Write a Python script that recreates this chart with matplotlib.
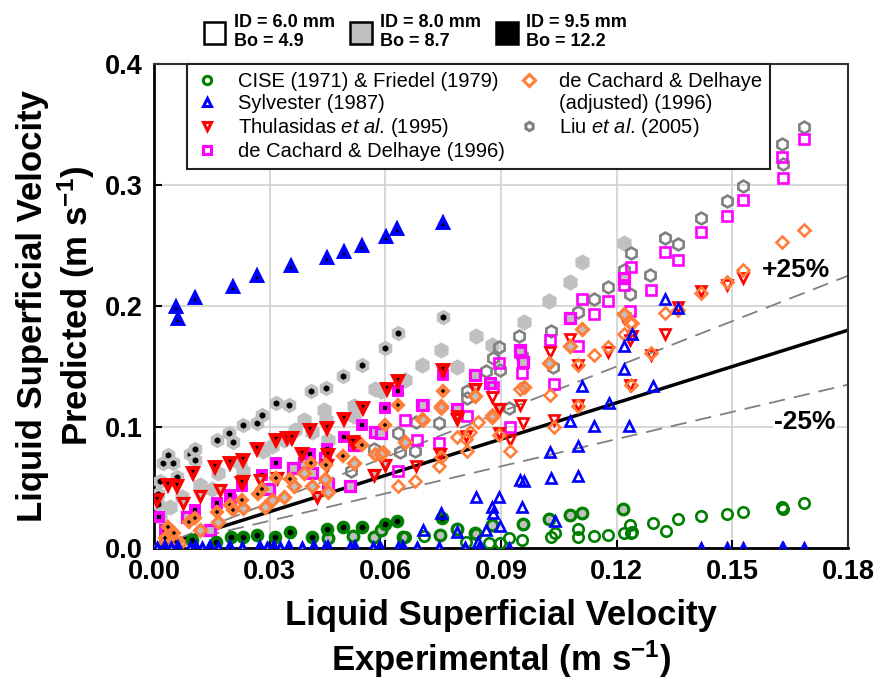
import matplotlib
matplotlib.use('Agg')
import matplotlib.pyplot as plt
from matplotlib.lines import Line2D
from matplotlib.patches import Patch

plt.rcParams['font.family'] = ['Liberation Sans', 'DejaVu Sans']
plt.rcParams['mathtext.fontset'] = 'custom'
plt.rcParams['mathtext.rm'] = 'Liberation Sans'
plt.rcParams['mathtext.it'] = 'Liberation Sans:italic'
plt.rcParams['mathtext.bf'] = 'Liberation Sans:bold'

# ---------------- data (x = experimental, y = predicted), m/s ----------------
# CISE (1971) & Friedel (1979)
cise_6_x = [0.065, 0.070, 0.081, 0.0836, 0.087, 0.0898, 0.0922, 0.0954, 0.103, 0.104, 0.110, 0.110, 0.114, 0.1177,
            0.122, 0.1235, 0.1237, 0.124, 0.1293, 0.1328, 0.1358, 0.142, 0.1485, 0.1528, 0.163, 0.1632, 0.1685]
cise_6_y = [0.009, 0.010, 0.005, 0.0116, 0.004, 0.004, 0.008, 0.0066, 0.0095, 0.012, 0.016, 0.0095, 0.010, 0.011,
            0.012, 0.019, 0.012, 0.013, 0.021, 0.014, 0.024, 0.0265, 0.028, 0.0295, 0.034, 0.032, 0.037]
cise_8_x = [0.045, 0.0517, 0.057, 0.059, 0.0647, 0.0742, 0.0786, 0.0833, 0.0876, 0.0958, 0.1025, 0.108, 0.111, 0.1216]
cise_8_y = [0.008, 0.010, 0.0095, 0.015, 0.0095, 0.011, 0.016, 0.012, 0.019, 0.020, 0.024, 0.027, 0.029, 0.032]
cise_95_x = [0.0098, 0.016, 0.020, 0.023, 0.0267, 0.0314, 0.0353, 0.041, 0.0448, 0.049, 0.054, 0.060, 0.063, 0.0746]
cise_95_y = [0.0066, 0.005, 0.009, 0.009, 0.011, 0.009, 0.0135, 0.0095, 0.0155, 0.017, 0.0176, 0.020, 0.0226, 0.025]

# Sylvester (1987)
syl_6_x = [0.0697, 0.0744, 0.0787, 0.084, 0.086, 0.0836, 0.0876, 0.088, 0.0894, 0.0898, 0.0954, 0.095, 0.096, 0.1026,
           0.103, 0.104, 0.108, 0.110, 0.110, 0.111, 0.114, 0.118, 0.1218, 0.122, 0.1233, 0.124, 0.1293, 0.1326,
           0.1358, 0.092, 0.142, 0.1485, 0.1527, 0.163, 0.1632, 0.1685]
syl_6_y = [0.015, 0.029, 0.0135, 0.005, 0.015, 0.042, 0.034, 0.029, 0.0425, 0.018, 0.034, 0.056, 0.0556, 0.079,
           0.058, 0.022, 0.105, 0.084, 0.0595, 0.134, 0.101, 0.1196, 0.167, 0.148, 0.101, 0.177, 0.134, 0.206,
           0.198, 0.0, 0.0, 0.0, 0.0, 0.0, 0.0, 0.0]
syl_8_x = [0.0007, 0.0043, 0.0093, 0.0124, 0.0167, 0.0228, 0.0293, 0.0327, 0.0383, 0.0444, 0.0509, 0.0569, 0.0634,
           0.0682, 0.074, 0.0807, 0.0844]
syl_8_y = [0.0, 0.0, 0.0, 0.0, 0.0, 0.0, 0.0, 0.0, 0.0, 0.0, 0.0, 0.0, 0.0, 0.0, 0.0, 0.0, 0.0]
syl_95_x = [0.0057, 0.0062, 0.0106, 0.0205, 0.0267, 0.0356, 0.0449, 0.0493, 0.054, 0.0602, 0.063, 0.075,
            0.0029, 0.0063, 0.011, 0.0145, 0.0197, 0.0275, 0.031, 0.0349, 0.0414, 0.0452, 0.0522, 0.0587, 0.0647]
syl_95_y = [0.199, 0.189, 0.207, 0.216, 0.225, 0.233, 0.240, 0.245, 0.250, 0.257, 0.264, 0.269,
            0.0, 0.0, 0.0, 0.0, 0.0, 0.0, 0.0, 0.0, 0.0, 0.0, 0.0, 0.0, 0.0]

# Thulasidas et al. (1995)
thu_6_x = [0.068, 0.0787, 0.081, 0.0876, 0.0896, 0.0924, 0.095, 0.0958, 0.1038, 0.110, 0.1028, 0.108, 0.110, 0.1177,
           0.1218, 0.1235, 0.1235, 0.124, 0.129, 0.1326, 0.136, 0.142, 0.1485, 0.1528]
thu_6_y = [0.068, 0.109, 0.0925, 0.125, 0.095, 0.089, 0.118, 0.103, 0.106, 0.118, 0.162, 0.173, 0.151, 0.162,
           0.190, 0.172, 0.135, 0.175, 0.1595, 0.177, 0.1995, 0.212, 0.217, 0.223]
thu_8_x = [0.0076, 0.012, 0.0171, 0.0232, 0.0275, 0.032, 0.0422, 0.0448, 0.052, 0.057, 0.060, 0.0742, 0.0786,
           0.0833, 0.0896]
thu_8_y = [0.037, 0.043, 0.048, 0.055, 0.056, 0.058, 0.042, 0.0686, 0.0865, 0.060, 0.069, 0.078, 0.107, 0.131, 0.1146]
thu_95_x = [0.0007, 0.0037, 0.0059, 0.0102, 0.0158, 0.0197, 0.0228, 0.023, 0.0268, 0.0317, 0.0344, 0.0357, 0.0383,
            0.0405, 0.0448, 0.045, 0.0494, 0.0517, 0.0543, 0.0604, 0.0632, 0.0749]
thu_95_y = [0.040, 0.052, 0.051, 0.062, 0.067, 0.070, 0.0535, 0.0727, 0.082, 0.089, 0.0907, 0.0907, 0.078,
            0.0975, 0.099, 0.077, 0.107, 0.088, 0.116, 0.131, 0.138, 0.147]

# de Cachard & Delhaye (1996)
dc_6_x = [0.0634, 0.065, 0.0683, 0.0697, 0.074, 0.0787, 0.0813, 0.0879, 0.0894, 0.0924, 0.0948, 0.0954, 0.1026,
          0.1038, 0.110, 0.114, 0.1177, 0.111, 0.122, 0.1238, 0.1235, 0.129, 0.1326, 0.1358, 0.142, 0.1485, 0.1527,
          0.163, 0.1632, 0.1685]
dc_6_y = [0.064, 0.106, 0.089, 0.118, 0.087, 0.1146, 0.109, 0.133, 0.153, 0.100, 0.162, 0.145, 0.172,
          0.1355, 0.167, 0.193, 0.204, 0.206, 0.217, 0.232, 0.196, 0.213, 0.245, 0.238, 0.261, 0.2746, 0.288,
          0.323, 0.306, 0.338]
dc_8_x = [0.0085, 0.0145, 0.0197, 0.0297, 0.036, 0.039, 0.041, 0.0444, 0.045, 0.0509, 0.052, 0.0574, 0.059, 0.0695,
          0.0786, 0.0833, 0.0872, 0.095, 0.0958, 0.108, 0.1218]
dc_8_y = [0.026, 0.015, 0.040, 0.049, 0.066, 0.070, 0.062, 0.074, 0.053, 0.051, 0.085, 0.096, 0.095, 0.118,
          0.1146, 0.143, 0.136, 0.164, 0.154, 0.190, 0.223]
dc_95_x = [0.0014, 0.0029, 0.0106, 0.0163, 0.0197, 0.0228, 0.028, 0.0317, 0.0405, 0.0448, 0.0494, 0.054, 0.060,
           0.0634, 0.0749]
dc_95_y = [0.026, 0.015, 0.0314, 0.037, 0.044, 0.051, 0.060, 0.070, 0.078, 0.0815, 0.092, 0.1017, 0.1155, 0.130, 0.143]

# de Cachard & Delhaye (adjusted) (1996)
dca_6_x = [0.0595, 0.0634, 0.0651, 0.0677, 0.0697, 0.074, 0.0744, 0.0744, 0.0786, 0.081, 0.0813, 0.082, 0.084,
           0.0876, 0.0896, 0.0924, 0.095, 0.1028, 0.1038, 0.110, 0.110, 0.114, 0.1177, 0.122, 0.1235, 0.1237, 0.124,
           0.129, 0.1326, 0.136, 0.142, 0.1485, 0.1528, 0.163, 0.1685]
dca_6_y = [0.079, 0.051, 0.088, 0.0556, 0.106, 0.068, 0.0755, 0.116, 0.092, 0.090, 0.080, 0.096, 0.104,
           0.110, 0.093, 0.080, 0.131, 0.1264, 0.100, 0.117, 0.151, 0.1595, 0.166, 0.177, 0.186, 0.135, 0.1857,
           0.161, 0.1945, 0.197, 0.211, 0.220, 0.230, 0.253, 0.263]
dca_8_x = [0.0046, 0.0067, 0.012, 0.0167, 0.0232, 0.0288, 0.0305, 0.0336, 0.0362, 0.039, 0.041, 0.0444, 0.045,
           0.052, 0.0572, 0.059, 0.065, 0.0695, 0.0744, 0.0833, 0.0876, 0.096, 0.1025, 0.108, 0.111, 0.1218]
dca_8_y = [0.001, 0.004, 0.015, 0.0217, 0.033, 0.034, 0.040, 0.042, 0.051, 0.062, 0.051, 0.057, 0.0465,
           0.070, 0.078, 0.078, 0.088, 0.107, 0.117, 0.126, 0.1086, 0.133, 0.153, 0.167, 0.181, 0.193]
dca_95_x = [0.0016, 0.0029, 0.0037, 0.0052, 0.0057, 0.0092, 0.0106, 0.0163, 0.0197, 0.0204, 0.0228, 0.0271, 0.028,
            0.0317, 0.0353, 0.0407, 0.0446, 0.0491, 0.054, 0.060, 0.0634, 0.0749]
dca_95_y = [0.001, 0.008, 0.0176, 0.012, 0.005, 0.0217, 0.0245, 0.030, 0.0355, 0.0314, 0.040, 0.045, 0.049,
            0.0576, 0.0568, 0.070, 0.0686, 0.076, 0.085, 0.1017, 0.118, 0.130]

# Liu et al. (2005)
liu_6_x = [0.045, 0.051, 0.057, 0.0634, 0.0637, 0.0677, 0.068, 0.074, 0.0812, 0.0813, 0.086, 0.088, 0.0895, 0.0898,
           0.0922, 0.0947, 0.0954, 0.103, 0.1036, 0.110, 0.114, 0.1177, 0.122, 0.1235, 0.1238, 0.1287, 0.1326,
           0.1358, 0.142, 0.1485, 0.1527, 0.163, 0.1632, 0.1685]
liu_6_y = [0.053, 0.064, 0.0815, 0.095, 0.079, 0.080, 0.104, 0.103, 0.130, 0.124, 0.146, 0.157, 0.166, 0.147,
           0.116, 0.175, 0.159, 0.179, 0.150, 0.195, 0.206, 0.216, 0.230, 0.210, 0.244, 0.226, 0.256,
           0.251, 0.273, 0.287, 0.299, 0.334, 0.317, 0.348]
liu_8_x = [0.0016, 0.0042, 0.0072, 0.012, 0.015, 0.0167, 0.0223, 0.0232, 0.0284, 0.0305, 0.0336, 0.0366, 0.039,
           0.041, 0.0442, 0.0446, 0.045, 0.052, 0.052, 0.0574, 0.059, 0.065, 0.0695, 0.0744, 0.0787, 0.0835, 0.0876,
           0.096, 0.1025, 0.108, 0.111, 0.1218]
liu_8_y = [0.026, 0.034, 0.042, 0.052, 0.049, 0.062, 0.070, 0.064, 0.080, 0.084, 0.089, 0.0975, 0.106,
           0.096, 0.114, 0.106, 0.089, 0.117, 0.109, 0.131, 0.130, 0.139, 0.151, 0.164, 0.150, 0.175, 0.168,
           0.187, 0.204, 0.220, 0.236, 0.252]
liu_95_x = [0.0011, 0.0011, 0.0016, 0.0024, 0.0037, 0.005, 0.0059, 0.0093, 0.0106, 0.0106, 0.0163, 0.0195, 0.0204,
            0.023, 0.0267, 0.028, 0.0316, 0.0349, 0.0407, 0.0446, 0.0491, 0.054, 0.060, 0.0634, 0.075]
liu_95_y = [0.036, 0.045, 0.055, 0.070, 0.077, 0.070, 0.059, 0.078, 0.082, 0.073, 0.089, 0.095, 0.088,
            0.102, 0.103, 0.110, 0.120, 0.118, 0.130, 0.132, 0.142, 0.151, 0.165, 0.178, 0.191]

# reference lines: predicted = factor * experimental
ref_x = [0.0, 0.18]
ref_factors = [1.0, 1.25, 0.75]

tube_labels = ['ID = 6.0 mm\nBo = 4.9', 'ID = 8.0 mm\nBo = 8.7', 'ID = 9.5 mm\nBo = 12.2']
corr_labels = ['CISE (1971) & Friedel (1979)', 'Sylvester (1987)', r'Thulasidas $\mathit{et\ al}$. (1995)',
               'de Cachard & Delhaye (1996)', 'de Cachard & Delhaye', '(adjusted) (1996)',
               r'Liu $\mathit{et\ al}$. (2005)']
x_ticks = [0.00, 0.03, 0.06, 0.09, 0.12, 0.15, 0.18]
y_ticks = [0.0, 0.1, 0.2, 0.3, 0.4]

# ---------------- figure ----------------
fig = plt.figure(figsize=(8.76, 6.81), dpi=100)
ax = fig.add_axes([154 / 876, 1 - 548 / 681, 694 / 876, 484 / 681])

GREEN, BLUE, RED, MAG, ORANGE, GRAY, LGRAY = '#008000', '#0000ff', '#ff0000', '#ff00ff', '#ff7f3a', '#808080', '#c0c0c0'

correlations = [
    # (marker, ms, color, groups, zorder)
    ('h', 9.0, GRAY, [(liu_6_x, liu_6_y), (liu_8_x, liu_8_y), (liu_95_x, liu_95_y)], 3),
    ('s', 7.0, MAG, [(dc_6_x, dc_6_y), (dc_8_x, dc_8_y), (dc_95_x, dc_95_y)], 4),
    ('v', 8.0, RED, [(thu_6_x, thu_6_y), (thu_8_x, thu_8_y), (thu_95_x, thu_95_y)], 5),
    ('D', 6.5, ORANGE, [(dca_6_x, dca_6_y), (dca_8_x, dca_8_y), (dca_95_x, dca_95_y)], 6),
    ('o', 8.0, GREEN, [(cise_6_x, cise_6_y), (cise_8_x, cise_8_y), (cise_95_x, cise_95_y)], 7),
    ('^', 8.0, BLUE, [(syl_6_x, syl_6_y), (syl_8_x, syl_8_y), (syl_95_x, syl_95_y)], 8),
]

for marker, ms, color, groups, z in correlations:
    (x6, y6), (x8, y8), (x95, y95) = groups
    if color == GRAY:
        ax.plot(x8, y8, ls='none', marker=marker, ms=ms + 0.5, mfc=LGRAY, mec=LGRAY, mew=2.0, zorder=z)
        ax.plot(x95, y95, ls='none', marker=marker, ms=ms - 1.0, mfc='black', mec=LGRAY, mew=2.8, zorder=z)
    else:
        ax.plot(x8, y8, ls='none', marker=marker, ms=ms - 0.3, mfc=LGRAY, mec=color, mew=2.3, zorder=z)
        ax.plot(x95, y95, ls='none', marker=marker, ms=ms - 1.0, mfc='black', mec=color, mew=2.8, zorder=z)
    ax.plot(x6, y6, ls='none', marker=marker, ms=ms - 0.5, mfc='none', mec=color, mew=1.9, zorder=z)

# reference lines
for f in ref_factors:
    ry = [f * v for v in ref_x]
    if f == 1.0:
        ax.plot(ref_x, ry, color='black', lw=2.5, zorder=2.5)
    else:
        ax.plot(ref_x, ry, color='#808080', lw=1.3, dashes=(9, 5), zorder=2.5)

ax.text(0.1666, 0.2297, '+25%', ha='center', va='center', fontsize=19, fontweight='bold', zorder=10,
        bbox=dict(fc='white', ec='none', pad=1.0))
ax.text(0.1688, 0.104, '-25%', ha='center', va='center', fontsize=19, fontweight='bold', zorder=10,
        bbox=dict(fc='white', ec='none', pad=1.0))

ax.set_xlim(0, 0.18)
ax.set_ylim(0, 0.4)
ax.set_xticks(x_ticks)
ax.set_yticks(y_ticks)
ax.set_xticklabels(['%.2f' % v for v in x_ticks])
ax.set_yticklabels(['%.1f' % v for v in y_ticks])
ax.tick_params(direction='in', length=6, width=1.5, labelsize=19.5, pad=8)
for lbl in ax.get_xticklabels() + ax.get_yticklabels():
    lbl.set_fontweight('bold')
ax.grid(True, color='#d4d4d4', lw=1.3)
ax.set_axisbelow(True)
for side in ['left', 'bottom']:
    ax.spines[side].set_linewidth(2.0)
    ax.spines[side].set_color('black')
for side in ['top', 'right']:
    ax.spines[side].set_linewidth(1.5)
    ax.spines[side].set_color('#333333')

ax.set_xlabel('Liquid Superficial Velocity\n' + r'Experimental (m s$^{\mathbf{-1}}$)', fontsize=25,
              fontweight='bold', labelpad=10, linespacing=1.2)
ax.set_ylabel('Liquid Superficial Velocity\n' + r'Predicted (m s$^{\mathbf{-1}}$)', fontsize=25,
              fontweight='bold', labelpad=6, linespacing=1.2)

# inner legend (correlations)
corr_colors = [GREEN, BLUE, RED, MAG, ORANGE, None, GRAY]
corr_markers = ['o', '^', 'v', 's', 'D', None, 'h']
handles = []
for m, c in zip(corr_markers, corr_colors):
    if m is None:
        handles.append(Line2D([], [], ls='none'))
    else:
        handles.append(Line2D([], [], ls='none', marker=m, ms=6, mfc='none', mec=c, mew=2.2))
labels = list(corr_labels)
handles.append(Line2D([], [], ls='none'))
labels.append(' ')
leg = ax.legend(handles, labels, ncol=2, loc='upper left', bbox_to_anchor=(0.047, 1.0), fontsize=14.5,
                frameon=True, fancybox=False, edgecolor='#222222', framealpha=1, borderpad=0.4,
                handlelength=1.25, handletextpad=0.9, columnspacing=0.55, labelspacing=0.15, borderaxespad=0)
leg.get_frame().set_linewidth(1.5)
leg.set_zorder(20)

# top legend (tubes)
tube_handles = [Patch(fc='white', ec='black', lw=1.8), Patch(fc=LGRAY, ec='black', lw=1.8),
                Patch(fc='black', ec='black', lw=1.8)]
fig.legend(tube_handles, tube_labels, ncol=3, loc='upper center', bbox_to_anchor=(0.474, 0.993), frameon=False,
           prop=dict(weight='bold', size=13), handlelength=1.2, handleheight=1.5, handletextpad=0.45,
           columnspacing=0.85, borderaxespad=0.2, borderpad=0.3)

fig.savefig('out.png', dpi=100)
